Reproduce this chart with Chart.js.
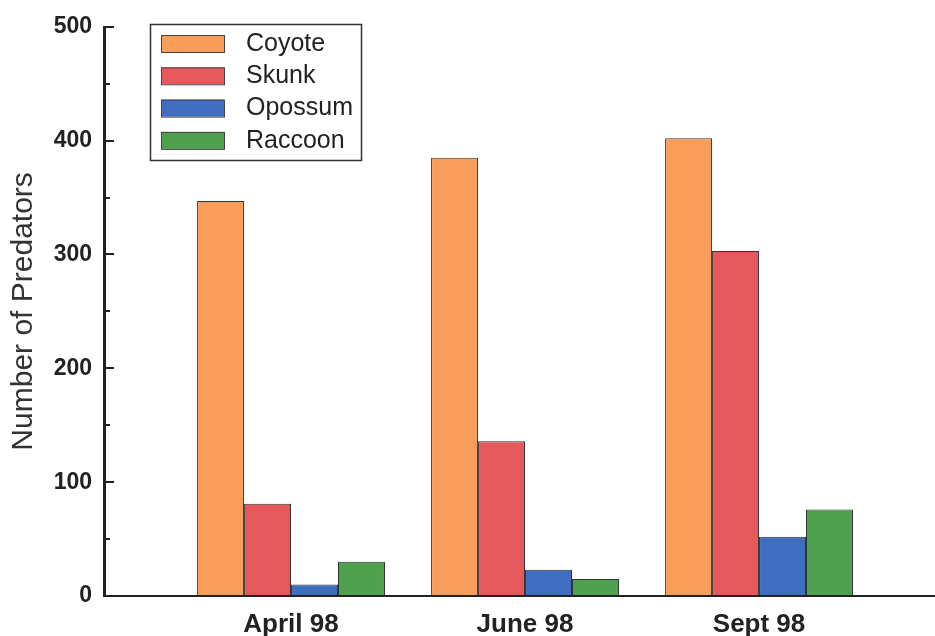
<!DOCTYPE html>
<html>
<head>
<meta charset="utf-8">
<script src="https://cdn.jsdelivr.net/npm/chart.js@4/dist/chart.umd.min.js"></script>
<style>
  html, body { margin: 0; padding: 0; background: #fff; }
  #wrap { width: 935px; height: 636px; position: relative; }
</style>
</head>
<body>
<div id="wrap"><canvas id="c"></canvas></div>
<script>
// datos
const months = ['April 98', 'June 98', 'Sept 98'];
const species = ['Coyote', 'Skunk', 'Opossum', 'Raccoon'];
const coyote = [347, 385, 402];
const skunk = [81, 136, 303];
const opossum = [10, 23, 52];
const raccoon = [30, 15, 76];
const yTicks = [0, 100, 200, 300, 400, 500];

const colors = ['#F89E5A', '#E5585C', '#3F6EC0', '#4FA04F'];
const ink = '#222';
const FONT = "'Liberation Sans', Arial, sans-serif";

const series = [coyote, skunk, opossum, raccoon];
// eje x lineal para poder dejar el hueco a la izquierda y el eje largo a la derecha
const toPoints = arr => arr.map((v, i) => ({ x: i + 1, y: v }));

// ejes y marcas hacia dentro en el eje y (cada 50, largas en las centenas)
const axesPlugin = {
  id: 'axesPlugin',
  afterDraw(chart) {
    const { ctx, scales: { y }, chartArea: ca } = chart;
    const x0 = Math.round(ca.left);
    const y0 = Math.round(ca.bottom);
    const t = Math.round(ca.top);
    ctx.save();
    ctx.fillStyle = ink;
    // eje vertical
    ctx.fillRect(x0 - 2, t - 1, 3, y0 - t + 2);
    // eje horizontal
    ctx.fillRect(x0 - 2, y0 - 1, Math.round(ca.right) - x0 + 2, 2);
    for (let v = 0; v <= 500; v += 50) {
      const py = Math.round(y.getPixelForValue(v));
      const len = v % 100 === 0 ? 9 : 5;
      ctx.fillRect(x0, py - 1, len, 2);
    }
    ctx.restore();
  }
};

// leyenda con recuadro dentro del área del gráfico
const boxLegend = {
  id: 'boxLegend',
  afterDraw(chart) {
    const { ctx } = chart;
    ctx.save();
    ctx.fillStyle = '#fff';
    ctx.fillRect(150, 24, 211, 136);
    ctx.strokeStyle = '#333';
    ctx.lineWidth = 1.5;
    ctx.strokeRect(150.5, 24.5, 211, 136);
    ctx.font = `25px ${FONT}`;
    ctx.textBaseline = 'middle';
    chart.data.datasets.forEach((ds, i) => {
      const top = 35 + i * 32.3;
      ctx.fillStyle = ds.backgroundColor;
      ctx.fillRect(161, top, 63, 17);
      ctx.strokeStyle = '#444';
      ctx.lineWidth = 1;
      ctx.strokeRect(161.5, top + 0.5, 63, 17);
      ctx.fillStyle = ink;
      ctx.fillText(ds.label, 246, top + 9);
    });
    ctx.restore();
  }
};

new Chart('c', {
  type: 'bar',
  data: {
    datasets: species.map((name, i) => ({
      label: name,
      data: toPoints(series[i]),
      backgroundColor: colors[i],
      borderColor: '#333',
      borderWidth: 1,
      borderSkipped: false,
      barPercentage: 1,
      categoryPercentage: 0.803
    }))
  },
  options: {
    responsive: true, maintainAspectRatio: false, animation: false,
    layout: { padding: { top: 20, right: 0, left: 0, bottom: 0 } },
    plugins: { legend: { display: false }, tooltip: { enabled: false } },
    scales: {
      x: {
        type: 'linear', min: 0.205, max: 3.752, offset: false,
        afterFit: s => { s.height = 40; },
        afterBuildTicks: s => { s.ticks = months.map((_, i) => ({ value: i + 1 })); },
        grid: { display: false, drawTicks: false, offset: false },
        border: { display: false },
        ticks: {
          padding: 13, color: ink, maxRotation: 0, autoSkip: false,
          font: { family: FONT, size: 26, weight: 'bold' },
          callback: v => months[v - 1] || ''
        }
      },
      y: {
        min: 0, max: 500,
        afterFit: s => { s.width = 105; },
        afterBuildTicks: s => { s.ticks = yTicks.map(v => ({ value: v })); },
        grid: { display: false, drawTicks: false },
        border: { display: false },
        ticks: {
          padding: 13, color: ink,
          font: { family: FONT, size: 23, weight: 'bold' }
        },
        title: {
          display: true, text: 'Number of Predators', color: '#333',
          padding: { top: 6, bottom: 0 },
          font: { family: FONT, size: 30 }
        }
      }
    }
  },
  plugins: [axesPlugin, boxLegend]
});
</script>
</body>
</html>
